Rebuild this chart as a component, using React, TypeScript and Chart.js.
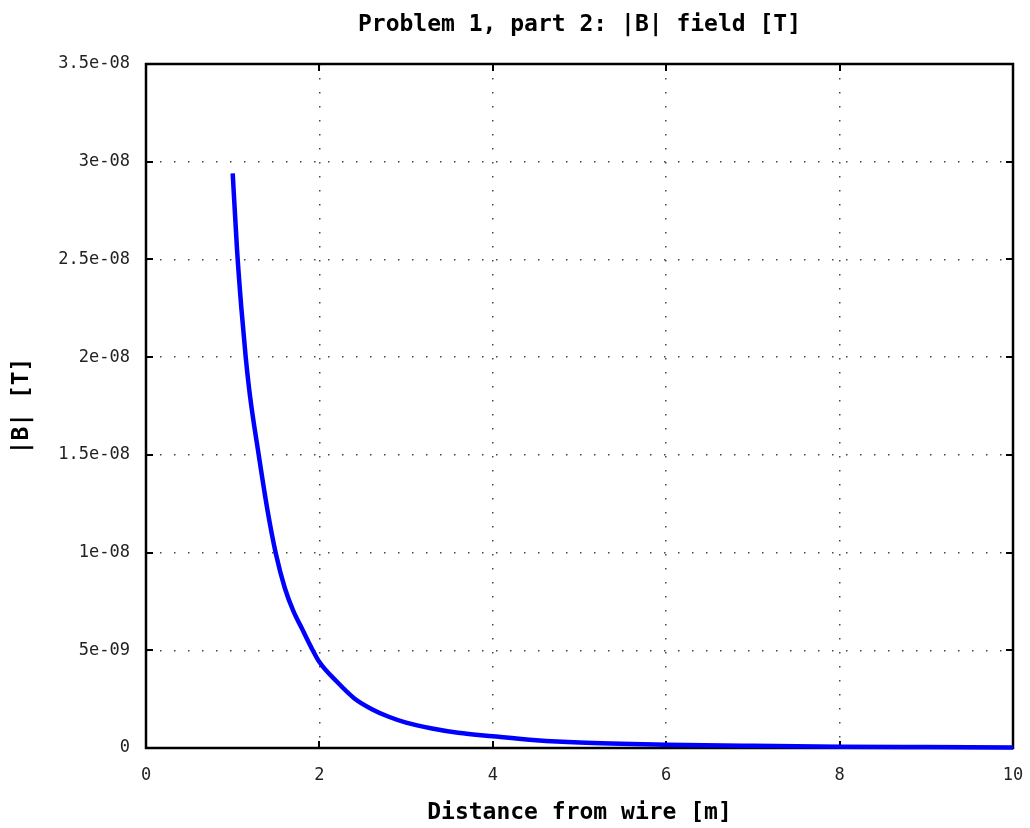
import React, { useEffect, useRef } from "react";
import { Chart, registerables } from "chart.js";

Chart.register(...registerables);

const TITLE = "Problem 1, part 2: |B| field [T]";
const X_LABEL = "Distance from wire [m]";
const Y_LABEL = "|B| [T]";

const distance = [1.0, 1.05, 1.1, 1.15, 1.2, 1.3, 1.4, 1.5, 1.6, 1.7, 1.8, 1.9, 2.0, 2.2, 2.4, 2.6, 2.8, 3.0, 3.3, 3.6, 4.0, 4.5, 5.0, 6.0, 7.0, 8.0, 9.0, 10.0];
const fieldB = [2.94e-8, 2.55e-8, 2.25e-8, 2.0e-8, 1.8e-8, 1.5e-8, 1.22e-8, 9.9e-9, 8.2e-9, 7.0e-9, 6.1e-9, 5.2e-9, 4.4e-9, 3.4e-9, 2.55e-9, 2.0e-9, 1.6e-9, 1.3e-9, 1.0e-9, 7.8e-10, 6.0e-10, 4.0e-10, 2.8e-10, 1.7e-10, 1.1e-10, 7e-11, 5e-11, 3e-11];

const yTickValues = [0, 5e-9, 1e-8, 1.5e-8, 2e-8, 2.5e-8, 3e-8, 3.5e-8];
const yTickLabels = ["0", "5e-09", "1e-08", "1.5e-08", "2e-08", "2.5e-08", "3e-08", "3.5e-08"];
const xTickValues = [0, 2, 4, 6, 8, 10];

const MONO = "'DejaVu Sans Mono', 'Liberation Mono', monospace";

const boxPlugin = {
  id: "boxAndTicks",
  beforeDatasetsDraw(chart: any) {
    const { ctx, chartArea } = chart;
    const { left, right, top, bottom } = chartArea;
    const xs = chart.scales.x;
    const ys = chart.scales.y;
    ctx.save();
    ctx.strokeStyle = "#000";
    ctx.lineWidth = 2;
    const tl = 7;
    ctx.beginPath();
    xTickValues.forEach((v) => {
      const px = Math.round(xs.getPixelForValue(v));
      ctx.moveTo(px, bottom);
      ctx.lineTo(px, bottom - tl);
      ctx.moveTo(px, top);
      ctx.lineTo(px, top + tl);
    });
    yTickValues.forEach((v) => {
      const py = Math.round(ys.getPixelForValue(v));
      ctx.moveTo(left, py);
      ctx.lineTo(left + tl, py);
      ctx.moveTo(right, py);
      ctx.lineTo(right - tl, py);
    });
    ctx.stroke();
    ctx.lineWidth = 2.5;
    ctx.strokeRect(left, top, right - left, bottom - top);
    ctx.restore();
  },
};

export default function App() {
  const ref = useRef<HTMLCanvasElement>(null);

  useEffect(() => {
    if (!ref.current) return;
    const chart = new Chart(ref.current, {
      type: "line",
      data: {
        datasets: [
          {
            data: distance.map((d, i) => ({ x: d, y: fieldB[i] })),
            borderColor: "#0000ff",
            borderWidth: 4.5,
            pointRadius: 0,
            cubicInterpolationMode: "monotone",
            fill: false,
            clip: 4,
          } as any,
        ],
      },
      options: {
        responsive: false,
        animation: false,
        layout: { padding: { left: 0, right: 17, top: 0, bottom: 0 } },
        plugins: {
          legend: { display: false },
          tooltip: { enabled: false },
          title: {
            display: true,
            text: TITLE,
            fullSize: false,
            color: "#000",
            font: { family: MONO, size: 23, weight: "bold", lineHeight: 1.2 },
            padding: { top: 11.5, bottom: 24.9 },
          },
        },
        scales: {
          x: {
            type: "linear",
            min: 0,
            max: 10,
            afterFit: (s: any) => {
              s.height = 80;
              s.paddingLeft = 0;
              s.paddingRight = 0;
            },
            afterBuildTicks: (s: any) => {
              s.ticks = xTickValues.map((v) => ({ value: v }));
            },
            ticks: {
              color: "#222",
              font: { family: MONO, size: 17 },
              padding: 17,
              maxRotation: 0,
              callback: (v: any) => String(v),
            },
            grid: {
              drawTicks: false,
              color: "rgba(50,50,50,0.9)",
              lineWidth: 1.5,
            },
            border: { display: false, dash: [1.5, 12.5] },
            title: {
              display: true,
              text: X_LABEL,
              color: "#000",
              font: { family: MONO, size: 23, weight: "bold", lineHeight: 1.2 },
              padding: { top: 0, bottom: 1.5 },
            },
          },
          y: {
            type: "linear",
            min: 0,
            max: 3.5e-8,
            afterFit: (s: any) => {
              s.width = 146;
              s.paddingTop = 0;
              s.paddingBottom = 0;
            },
            afterBuildTicks: (s: any) => {
              s.ticks = yTickValues.map((v) => ({ value: v }));
            },
            ticks: {
              color: "#222",
              font: { family: MONO, size: 17 },
              padding: 16,
              callback: (v: any) => {
                const i = yTickValues.findIndex((t) => Math.abs(t - v) < 1e-12);
                return i >= 0 ? yTickLabels[i] : "";
              },
            },
            grid: {
              drawTicks: false,
              color: "rgba(50,50,50,0.9)",
              lineWidth: 1.5,
            },
            border: { display: false, dash: [1.5, 12.5] },
            title: {
              display: true,
              text: Y_LABEL,
              color: "#000",
              font: { family: MONO, size: 23, weight: "bold", lineHeight: 1.2 },
              padding: { top: 8.5, bottom: 0 },
            },
          },
        },
      },
      plugins: [boxPlugin],
    });
    return () => chart.destroy();
  }, []);

  return (
    <div style={{ position: "fixed", left: 0, top: 0, width: 1030, height: 828, background: "#fff" }}>
      <canvas ref={ref} width={1030} height={828} style={{ width: 1030, height: 828 }} />
    </div>
  );
}
